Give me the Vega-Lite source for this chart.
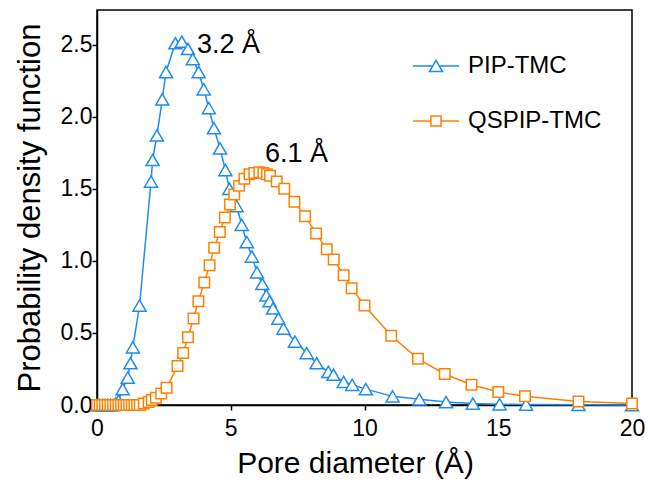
{
  "$schema": "https://vega.github.io/schema/vega-lite/v6.json",
  "width": 535,
  "height": 395,
  "autosize": "none",
  "padding": {"left": 97, "top": 10, "right": 16, "bottom": 78},
  "background": "white",
  "config": {
    "font": "Liberation Sans",
    "view": {"stroke": "black", "strokeWidth": 1.5},
    "axis": {
      "grid": false,
      "domainColor": "black",
      "domainWidth": 1.5,
      "tickColor": "black",
      "tickWidth": 1.5,
      "tickSize": 5,
      "labelColor": "black",
      "labelFontSize": 23,
      "labelFont": "Liberation Sans",
      "titleColor": "black",
      "titleFontSize": 30,
      "titleFont": "Liberation Sans",
      "titleFontWeight": "normal",
      "labelPadding": 2,
      "labelFlush": false,
      "labelOverlap": false
    }
  },
  "data": {
    "values": [
      {"series": "PIP-TMC", "d": 0, "pdf": 0},
      {"series": "PIP-TMC", "d": 0.1, "pdf": 0},
      {"series": "PIP-TMC", "d": 0.2, "pdf": 0},
      {"series": "PIP-TMC", "d": 0.3, "pdf": 0},
      {"series": "PIP-TMC", "d": 0.4, "pdf": 0},
      {"series": "PIP-TMC", "d": 0.5, "pdf": 0},
      {"series": "PIP-TMC", "d": 0.6, "pdf": 0},
      {"series": "PIP-TMC", "d": 0.7, "pdf": 0.01},
      {"series": "PIP-TMC", "d": 0.8, "pdf": 0.03},
      {"series": "PIP-TMC", "d": 0.96, "pdf": 0.11},
      {"series": "PIP-TMC", "d": 1.15, "pdf": 0.19},
      {"series": "PIP-TMC", "d": 1.25, "pdf": 0.29},
      {"series": "PIP-TMC", "d": 1.34, "pdf": 0.40},
      {"series": "PIP-TMC", "d": 1.59, "pdf": 0.69},
      {"series": "PIP-TMC", "d": 2.02, "pdf": 1.55},
      {"series": "PIP-TMC", "d": 2.08, "pdf": 1.70},
      {"series": "PIP-TMC", "d": 2.24, "pdf": 1.87},
      {"series": "PIP-TMC", "d": 2.44, "pdf": 2.12},
      {"series": "PIP-TMC", "d": 2.58, "pdf": 2.31},
      {"series": "PIP-TMC", "d": 2.93, "pdf": 2.51},
      {"series": "PIP-TMC", "d": 3.17, "pdf": 2.52},
      {"series": "PIP-TMC", "d": 3.40, "pdf": 2.47},
      {"series": "PIP-TMC", "d": 3.58, "pdf": 2.40},
      {"series": "PIP-TMC", "d": 3.80, "pdf": 2.31},
      {"series": "PIP-TMC", "d": 3.99, "pdf": 2.19},
      {"series": "PIP-TMC", "d": 4.18, "pdf": 2.06},
      {"series": "PIP-TMC", "d": 4.37, "pdf": 1.92},
      {"series": "PIP-TMC", "d": 4.60, "pdf": 1.78},
      {"series": "PIP-TMC", "d": 4.80, "pdf": 1.63},
      {"series": "PIP-TMC", "d": 4.95, "pdf": 1.50},
      {"series": "PIP-TMC", "d": 5.22, "pdf": 1.38},
      {"series": "PIP-TMC", "d": 5.41, "pdf": 1.25},
      {"series": "PIP-TMC", "d": 5.60, "pdf": 1.13},
      {"series": "PIP-TMC", "d": 5.79, "pdf": 1.03},
      {"series": "PIP-TMC", "d": 5.98, "pdf": 0.92},
      {"series": "PIP-TMC", "d": 6.18, "pdf": 0.84},
      {"series": "PIP-TMC", "d": 6.33, "pdf": 0.76},
      {"series": "PIP-TMC", "d": 6.45, "pdf": 0.72},
      {"series": "PIP-TMC", "d": 6.58, "pdf": 0.67},
      {"series": "PIP-TMC", "d": 6.78, "pdf": 0.60},
      {"series": "PIP-TMC", "d": 6.97, "pdf": 0.53},
      {"series": "PIP-TMC", "d": 7.40, "pdf": 0.44},
      {"series": "PIP-TMC", "d": 7.84, "pdf": 0.36},
      {"series": "PIP-TMC", "d": 8.21, "pdf": 0.29},
      {"series": "PIP-TMC", "d": 8.65, "pdf": 0.23},
      {"series": "PIP-TMC", "d": 8.84, "pdf": 0.21},
      {"series": "PIP-TMC", "d": 9.22, "pdf": 0.16},
      {"series": "PIP-TMC", "d": 9.54, "pdf": 0.14},
      {"series": "PIP-TMC", "d": 10.05, "pdf": 0.11},
      {"series": "PIP-TMC", "d": 11.05, "pdf": 0.06},
      {"series": "PIP-TMC", "d": 12.05, "pdf": 0.04},
      {"series": "PIP-TMC", "d": 13.05, "pdf": 0.02},
      {"series": "PIP-TMC", "d": 14.05, "pdf": 0.01},
      {"series": "PIP-TMC", "d": 15.05, "pdf": 0.005},
      {"series": "PIP-TMC", "d": 16.04, "pdf": 0.003},
      {"series": "PIP-TMC", "d": 18, "pdf": 0.001},
      {"series": "PIP-TMC", "d": 20, "pdf": 0},
      {"series": "QSPIP-TMC", "d": 0, "pdf": 0},
      {"series": "QSPIP-TMC", "d": 0.1, "pdf": 0},
      {"series": "QSPIP-TMC", "d": 0.2, "pdf": 0},
      {"series": "QSPIP-TMC", "d": 0.3, "pdf": 0},
      {"series": "QSPIP-TMC", "d": 0.4, "pdf": 0},
      {"series": "QSPIP-TMC", "d": 0.5, "pdf": 0},
      {"series": "QSPIP-TMC", "d": 0.6, "pdf": 0},
      {"series": "QSPIP-TMC", "d": 0.7, "pdf": 0},
      {"series": "QSPIP-TMC", "d": 0.8, "pdf": 0},
      {"series": "QSPIP-TMC", "d": 0.9, "pdf": 0},
      {"series": "QSPIP-TMC", "d": 1.0, "pdf": 0},
      {"series": "QSPIP-TMC", "d": 1.1, "pdf": 0},
      {"series": "QSPIP-TMC", "d": 1.2, "pdf": 0},
      {"series": "QSPIP-TMC", "d": 1.3, "pdf": 0},
      {"series": "QSPIP-TMC", "d": 1.4, "pdf": 0},
      {"series": "QSPIP-TMC", "d": 1.5, "pdf": 0},
      {"series": "QSPIP-TMC", "d": 1.6, "pdf": 0},
      {"series": "QSPIP-TMC", "d": 1.75, "pdf": 0.01},
      {"series": "QSPIP-TMC", "d": 1.93, "pdf": 0.02},
      {"series": "QSPIP-TMC", "d": 2.05, "pdf": 0.035},
      {"series": "QSPIP-TMC", "d": 2.2, "pdf": 0.05},
      {"series": "QSPIP-TMC", "d": 2.4, "pdf": 0.08},
      {"series": "QSPIP-TMC", "d": 2.6, "pdf": 0.12},
      {"series": "QSPIP-TMC", "d": 3.01, "pdf": 0.27},
      {"series": "QSPIP-TMC", "d": 3.22, "pdf": 0.36},
      {"series": "QSPIP-TMC", "d": 3.40, "pdf": 0.47},
      {"series": "QSPIP-TMC", "d": 3.61, "pdf": 0.60},
      {"series": "QSPIP-TMC", "d": 3.79, "pdf": 0.72},
      {"series": "QSPIP-TMC", "d": 4.01, "pdf": 0.85},
      {"series": "QSPIP-TMC", "d": 4.21, "pdf": 0.97},
      {"series": "QSPIP-TMC", "d": 4.38, "pdf": 1.09},
      {"series": "QSPIP-TMC", "d": 4.59, "pdf": 1.20},
      {"series": "QSPIP-TMC", "d": 4.78, "pdf": 1.30},
      {"series": "QSPIP-TMC", "d": 4.97, "pdf": 1.39},
      {"series": "QSPIP-TMC", "d": 5.13, "pdf": 1.46},
      {"series": "QSPIP-TMC", "d": 5.31, "pdf": 1.52},
      {"series": "QSPIP-TMC", "d": 5.51, "pdf": 1.57},
      {"series": "QSPIP-TMC", "d": 5.70, "pdf": 1.60},
      {"series": "QSPIP-TMC", "d": 5.88, "pdf": 1.61},
      {"series": "QSPIP-TMC", "d": 6.07, "pdf": 1.615},
      {"series": "QSPIP-TMC", "d": 6.22, "pdf": 1.61},
      {"series": "QSPIP-TMC", "d": 6.35, "pdf": 1.60},
      {"series": "QSPIP-TMC", "d": 6.47, "pdf": 1.59},
      {"series": "QSPIP-TMC", "d": 6.72, "pdf": 1.55},
      {"series": "QSPIP-TMC", "d": 7.0, "pdf": 1.50},
      {"series": "QSPIP-TMC", "d": 7.38, "pdf": 1.41},
      {"series": "QSPIP-TMC", "d": 7.78, "pdf": 1.31},
      {"series": "QSPIP-TMC", "d": 8.19, "pdf": 1.19},
      {"series": "QSPIP-TMC", "d": 8.59, "pdf": 1.08},
      {"series": "QSPIP-TMC", "d": 8.85, "pdf": 1.01},
      {"series": "QSPIP-TMC", "d": 9.22, "pdf": 0.90},
      {"series": "QSPIP-TMC", "d": 9.52, "pdf": 0.81},
      {"series": "QSPIP-TMC", "d": 10, "pdf": 0.69},
      {"series": "QSPIP-TMC", "d": 11, "pdf": 0.48},
      {"series": "QSPIP-TMC", "d": 12, "pdf": 0.32},
      {"series": "QSPIP-TMC", "d": 13, "pdf": 0.215},
      {"series": "QSPIP-TMC", "d": 14, "pdf": 0.14},
      {"series": "QSPIP-TMC", "d": 15, "pdf": 0.09},
      {"series": "QSPIP-TMC", "d": 16, "pdf": 0.06},
      {"series": "QSPIP-TMC", "d": 18, "pdf": 0.025},
      {"series": "QSPIP-TMC", "d": 20, "pdf": 0.01}
    ]
  },
  "layer": [
    {
      "mark": {"type": "line", "strokeWidth": 1.5},
      "encoding": {
        "x": {"field": "d", "type": "quantitative", "scale": {"domain": [0, 20], "nice": false, "zero": false}, "axis": {"title": "Pore diameter (Å)", "values": [0, 5, 10, 15, 20], "labelPadding": 7, "titlePadding": 8, "titleX": 258}},
        "y": {"field": "pdf", "type": "quantitative", "scale": {"domain": [0, 2.74], "nice": false}, "axis": {"title": "Probability density function", "values": [0, 0.5, 1, 1.5, 2, 2.5], "format": ".1f", "labelPadding": 0, "titlePadding": 14, "titleFontSize": 31}},
        "stroke": {
          "field": "series", "type": "nominal",
          "scale": {"domain": ["PIP-TMC", "QSPIP-TMC"], "range": ["#1E8CF0", "#FF8000"]},
          "legend": {
            "orient": "none", "legendX": 315, "legendY": 32, "title": null,
            "labelFontSize": 24, "labelFont": "Liberation Sans", "labelColor": "black",
            "symbolSize": 2116, "symbolStrokeWidth": 1.5, "rowPadding": 19, "labelOffset": 8, "padding": 0,
            "encode": {
              "symbols": {
                "update": {
                  "shape": {"signal": "datum.value === 'PIP-TMC' ? 'M-1,0L-0.14,0M0.14,0L1,0M0,-0.24L0.28,0.24L-0.28,0.24Z' : 'M-1,0L-0.22,0M0.22,0L1,0M-0.22,-0.22L0.22,-0.22L0.22,0.22L-0.22,0.22Z'"},
                  "fill": {"value": "white"},
                  "opacity": {"value": 1}
                }
              }
            }
          }
        }
      }
    },
    {
      "mark": {"type": "point", "filled": true, "fill": "white", "strokeWidth": 1.5, "opacity": 1},
      "encoding": {
        "x": {"field": "d", "type": "quantitative"},
        "y": {"field": "pdf", "type": "quantitative"},
        "stroke": {"field": "series", "type": "nominal"},
        "shape": {"field": "series", "type": "nominal", "scale": {"range": ["triangle-up", "square"]}, "legend": null},
        "size": {"field": "series", "type": "nominal", "scale": {"range": [170, 110]}, "legend": null}
      }
    },
    {
      "data": {"values": [
        {"label": "3.2 Å", "d": 3.74, "pdf": 2.5},
        {"label": "6.1 Å", "d": 6.28, "pdf": 1.74}
      ]},
      "mark": {"type": "text", "align": "left", "baseline": "middle", "fontSize": 27, "font": "Liberation Sans", "color": "black"},
      "encoding": {
        "x": {"field": "d", "type": "quantitative"},
        "y": {"field": "pdf", "type": "quantitative"},
        "text": {"field": "label"}
      }
    }
  ]
}
